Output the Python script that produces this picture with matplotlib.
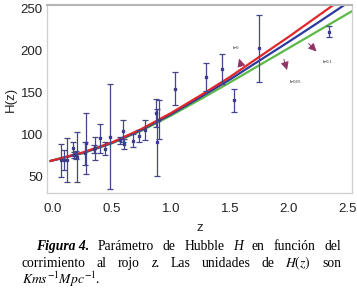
import numpy as np
import matplotlib
matplotlib.use('Agg')
import matplotlib.pyplot as plt

# observational H(z) points: redshift, value, error
z_obs = [0.07, 0.09, 0.12, 0.17, 0.179, 0.199, 0.2, 0.27, 0.28, 0.35, 0.352, 0.4, 0.44, 0.48,
         0.57, 0.593, 0.6, 0.68, 0.73, 0.781, 0.875, 0.88, 0.9, 1.037, 1.3, 1.43, 1.53, 1.75, 2.34]
H_obs = [69, 69, 68.6, 83, 75, 75, 72.9, 77, 88.8, 82.1, 83, 95, 82.6, 97,
         92.4, 104, 87.9, 92, 97.3, 105, 125, 90, 117, 154, 168, 177, 140, 202, 222]
H_err = [19.6, 12, 26.2, 8, 4, 5, 29.6, 14, 36.6, 4.9, 14, 17, 7.8, 62,
         4.5, 13, 6.1, 8, 7, 12, 17, 40, 23, 20, 17, 18, 14, 40, 7]

# model curves
z_mod = [-0.02, 0.25, 0.5, 0.75, 1.0, 1.25, 1.5, 1.75, 2.0, 2.25, 2.5, 2.55]
H_b0 = [68, 78, 90, 106, 125, 146, 168, 192, 216, 241, 266, 271]
H_b005 = [68, 77.5, 89.5, 105, 123.5, 144, 165, 187.5, 210, 233, 256.5, 261]
H_b01 = [68, 77, 89, 104, 122, 141.5, 161.5, 182, 202.5, 223, 243.5, 247.5]

W, Hpx = 357, 302
fig = plt.figure(figsize=(W/100, Hpx/100), dpi=100)
ax = fig.add_axes([47/W, 1-193/Hpx, 305/W, 188/Hpx])

ax.plot(z_mod, H_b01, color='#5cb847', lw=1.6)
ax.plot(z_mod, H_b005, color='#2b3a9e', lw=1.6)
ax.plot(z_mod, H_b0, color='#e2272b', lw=1.6)
ax.errorbar(z_obs, H_obs, yerr=H_err, fmt='s', ms=1.6, color='#3c3c8a',
            ecolor='#45458f', elinewidth=0.9, capsize=2.2, capthick=0.9)

arr = dict(arrowstyle='-|>', color='#933467', lw=0.7, mutation_scale=12)
ax.annotate('', xy=(1.57, 193), xytext=(1.60, 179), arrowprops=arr)
ax.annotate('', xy=(1.99, 173), xytext=(1.95, 192), arrowprops=arr)
ax.annotate('', xy=(2.25, 196), xytext=(2.15, 210), arrowprops=arr)
ax.text(1.54, 202, 'b=0', fontsize=3, family='Liberation Serif', ha='center', va='center')
ax.text(2.05, 162, 'b=0.05', fontsize=3, family='Liberation Serif', ha='center', va='center')
ax.text(2.32, 186, 'b=0.1', fontsize=3, family='Liberation Serif', ha='center', va='center')

ax.set_xlim(-0.051, 2.534)
ax.set_ylim(29.8, 253.6)
ax.set_xticks([0.0, 0.5, 1.0, 1.5, 2.0, 2.5])
ax.set_yticks([50, 100, 150, 200, 250])
ax.tick_params(length=0, labelsize=9.5, labelcolor='#222222')
ax.tick_params(axis='x', pad=7)
ax.tick_params(axis='y', pad=3)
for lab in ax.get_xticklabels() + ax.get_yticklabels():
    lab.set_family('Liberation Sans')
for s in ax.spines.values():
    s.set_color('#cfcfcf')
    s.set_linewidth(0.9)
ax.spines['top'].set_color('#b5b5b5')
ax.spines['top'].set_linewidth(1.5)
ax.set_xlabel('z', fontsize=9.5, family='Liberation Sans', labelpad=5, color='#222222')
ax.set_ylabel('H(z)', fontsize=9.5, family='Liberation Sans', labelpad=3, color='#222222')

# justified caption
plt.rcParams['mathtext.fontset'] = 'stix'
renderer = fig.canvas.get_renderer()
def line(words, y, x0, x1, justify=True):
    txts = []
    for w, st, wt in words:
        t = fig.text(0, 1 - y/Hpx, w, fontsize=9.8, family='Liberation Serif',
                     style=st, weight=wt, va='baseline', ha='left')
        txts.append(t)
    widths = [t.get_window_extent(renderer).width for t in txts]
    if justify and len(txts) > 1:
        gap = (x1 - x0 - sum(widths)) / (len(txts) - 1)
    else:
        gap = 3
    x = x0
    for t, w in zip(txts, widths):
        t.set_x(x / W)
        x += w + gap

n, i = 'normal', 'italic'
line([('Figura 4.', i, 'bold'), ('Parámetro', n, n), ('de', n, n), ('Hubble', n, n),
      ('H', i, n), ('en', n, n), ('función', n, n), ('del', n, n)], 250, 36, 341)
line([('corrimiento', n, n), ('al', n, n), ('rojo', n, n), ('z.', i, n), ('Las', n, n),
      ('unidades', n, n), ('de', n, n), ('$H(z)$', n, n), ('son', n, n)], 267, 22, 341)
line([('$Kms^{-1}Mpc^{-1}$.', n, n)], 284, 22, 341, justify=False)

fig.savefig('out.png', dpi=100)
